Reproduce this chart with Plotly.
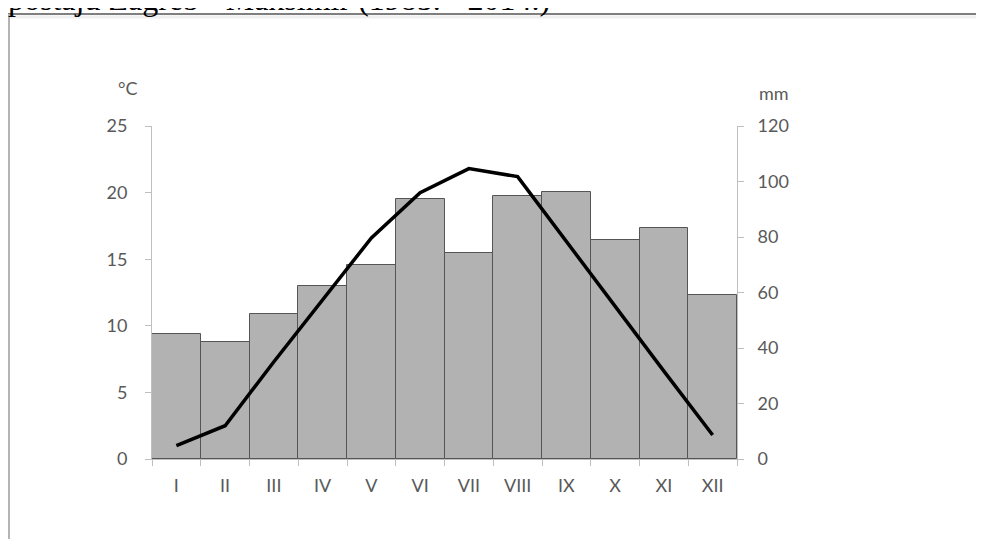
import plotly.graph_objects as go

months = ["I", "II", "III", "IV", "V", "VI", "VII", "VIII", "IX", "X", "XI", "XII"]
precip_mm = [45.0, 42.0, 52.4, 62.4, 69.8, 93.7, 74.2, 94.6, 96.2, 79.0, 83.2, 59.2]
temp_c = [1.0, 2.5, 7.3, 12.0, 16.6, 20.0, 21.8, 21.2, 16.3, 11.4, 6.6, 1.8]
title_text = "postaju Zagreb - Maksimir (1985. - 2014.)"

# page body has an 8px margin: work in screen pixels, convert to figure pixels
OFF = 8
W, H = 984 - OFF, 539 - OFF
L, R, T, B = 152 - OFF, 737 - OFF, 126 - OFF, 459 - OFF
PW, PH = R - L, B - T

def px(sx):
    return (sx - OFF - L) / PW

def py(sy):
    return 1 - (sy - OFF - T) / PH

tick_font = dict(family="Lato, Open Sans, sans-serif", size=18, color="#595959")
axis_col = "#bfbfbf"

fig = go.Figure()
fig.add_trace(go.Bar(
    x=months, y=precip_mm, yaxis="y",
    marker=dict(color="#b2b2b2", line=dict(color="#555555", width=1)),
    showlegend=False, hoverinfo="skip",
))
fig.add_trace(go.Scatter(
    x=months, y=temp_c, yaxis="y2", mode="lines",
    line=dict(color="#000000", width=3.5),
    showlegend=False, hoverinfo="skip",
))

fig.update_layout(
    width=W, height=H,
    margin=dict(l=L, r=W - R, t=T, b=H - B, pad=0),
    paper_bgcolor="white", plot_bgcolor="white",
    bargap=0,
    xaxis=dict(
        type="category", tickson="boundaries", ticks="outside", ticklen=6,
        tickcolor=axis_col, showline=True, linecolor=axis_col, linewidth=1,
        showgrid=False, zeroline=False, tickfont=tick_font, ticklabelstandoff=10,
    ),
    yaxis=dict(
        side="right", range=[0, 120], tickvals=[0, 20, 40, 60, 80, 100, 120],
        ticks="outside", ticklen=6, tickcolor=axis_col, showline=True,
        linecolor=axis_col, linewidth=1, showgrid=False, zeroline=False,
        tickfont=tick_font, ticklabelstandoff=10,
    ),
    yaxis2=dict(
        side="left", overlaying="y", range=[0, 25], tickvals=[0, 5, 10, 15, 20, 25],
        ticks="outside", ticklen=6, tickcolor=axis_col, showline=True,
        linecolor=axis_col, linewidth=1, showgrid=False, zeroline=False,
        tickfont=tick_font, ticklabelstandoff=14,
    ),
    shapes=[
        dict(type="line", xref="paper", yref="paper", x0=px(8), x1=px(990),
             y0=py(14), y1=py(14), line=dict(color="#7f7f7f", width=2.2)),
        dict(type="line", xref="paper", yref="paper", x0=px(8), x1=px(990),
             y0=py(17), y1=py(17), line=dict(color="#f0f0f0", width=3)),
        dict(type="line", xref="paper", yref="paper", x0=px(8.5), x1=px(8.5),
             y0=py(14), y1=py(545), line=dict(color="#b4b4b4", width=3)),
    ],
    annotations=[
        dict(text=title_text, xref="paper", yref="paper", x=px(6), y=py(-1.5),
             xanchor="left", yanchor="middle", showarrow=False,
             font=dict(family="Liberation Serif, Times New Roman, serif", size=32, color="#000000")),
        dict(text="°C", xref="paper", yref="paper", x=px(128), y=py(88),
             xanchor="center", yanchor="middle", showarrow=False, font=tick_font),
        dict(text="mm", xref="paper", yref="paper", x=px(774), y=py(93),
             xanchor="center", yanchor="middle", showarrow=False, font=tick_font),
    ],
)

fig.write_html("out.html")
